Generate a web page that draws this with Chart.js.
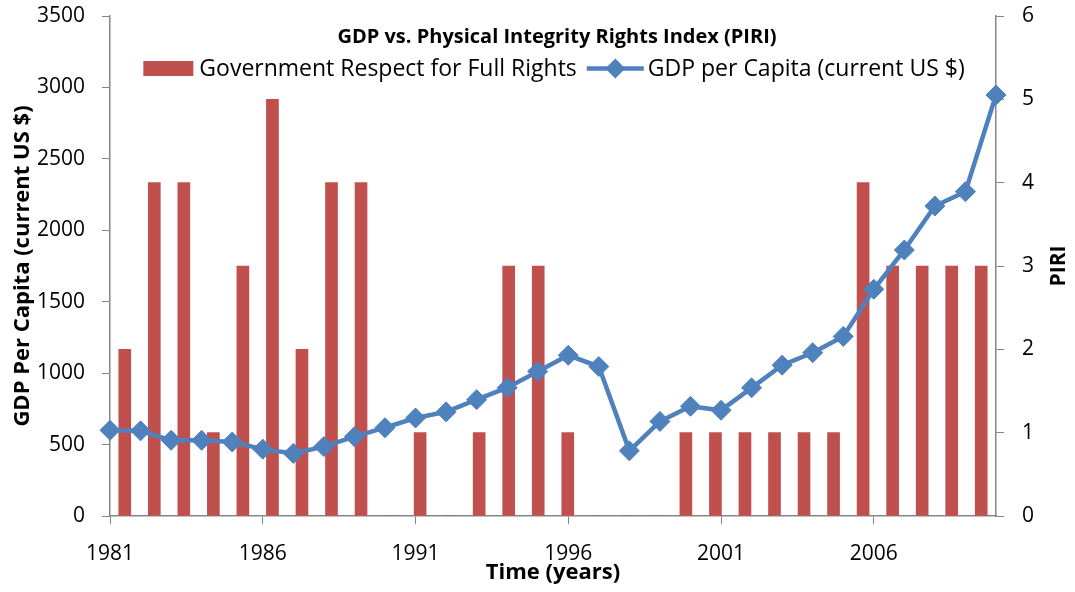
<!DOCTYPE html>
<html>
<head>
<meta charset="utf-8">
<title>GDP vs. PIRI</title>
<script src="https://cdn.jsdelivr.net/npm/chart.js@4/dist/chart.umd.min.js"></script>
<style>
  html, body { margin: 0; padding: 0; background: #ffffff; }
  #wrap { width: 1075px; height: 592px; }
</style>
</head>
<body>
<div id="wrap"><canvas id="gdp-piri-chart" width="1075" height="592"></canvas></div>
<script>
const chartTitle = "GDP vs. Physical Integrity Rights Index (PIRI)";
const years = [
  "1981", "1982", "1983", "1984", "1985", "1986", "1987", "1988", "1989", "1990",
  "1991", "1992", "1993", "1994", "1995", "1996", "1997", "1998", "1999", "2000",
  "2001", "2002", "2003", "2004", "2005", "2006", "2007", "2008", "2009", "2010",
];
// PIRI score per year (right axis)
const piriScores = [
  2, 4, 4, 1, 3, 5, 2, 4, 4, 0,
  1, 0, 1, 3, 3, 1, 0, 0, 0, 1,
  1, 1, 1, 1, 1, 4, 3, 3, 3, 3,
];
// GDP per capita, current US $ (left axis)
const gdpPerCapita = [
  600, 596, 530, 530, 518, 468, 438, 486, 555, 618,
  686, 729, 814, 898, 1012, 1125, 1046, 456, 662, 768,
  740, 897, 1056, 1143, 1257, 1587, 1862, 2170, 2270, 2947,
];
const gdpTicks = [0, 500, 1000, 1500, 2000, 2500, 3000, 3500];
const piriTicks = [0, 1, 2, 3, 4, 5, 6];

const barColor = "#C0504D";
const lineColor = "#4F81BD";
const axisColor = "#868686";
const fontFamily = "'Open Sans', Lato, sans-serif";

Chart.defaults.font.family = fontFamily;
Chart.defaults.color = "#000000";

// title, legend and the right axis name sit inside/over the plot, so draw them by hand
const headerPlugin = {
  id: "header",
  afterDraw(chart) {
    const ctx = chart.ctx;
    ctx.save();
    ctx.fillStyle = "#000000";
    ctx.textBaseline = "alphabetic";
    ctx.textAlign = "center";
    ctx.font = "bold 20px " + fontFamily;
    ctx.fillText(chartTitle, 557, 43);

    const ds = chart.data.datasets;
    const barSet = ds.find((d) => d.type === "bar");
    const lineSet = ds.find((d) => d.type === "line");
    ctx.font = "23px " + fontFamily;
    const w1 = ctx.measureText(barSet.label).width;
    const w2 = ctx.measureText(lineSet.label).width;
    const total = 50 + 6 + w1 + 10 + 57 + 4 + w2;
    let x = 554 - total / 2;
    const y = 68.5;
    ctx.textAlign = "left";

    ctx.fillStyle = barSet.backgroundColor;
    ctx.fillRect(x, 61, 50, 15);
    x += 56;
    ctx.fillStyle = "#000000";
    ctx.fillText(barSet.label, x, 76);
    x += w1 + 10;

    ctx.strokeStyle = lineSet.borderColor;
    ctx.lineWidth = lineSet.borderWidth;
    ctx.beginPath();
    ctx.moveTo(x, y);
    ctx.lineTo(x + 57, y);
    ctx.stroke();
    ctx.fillStyle = lineSet.pointBackgroundColor;
    ctx.beginPath();
    ctx.moveTo(x + 28.5, y - 10);
    ctx.lineTo(x + 38.5, y);
    ctx.lineTo(x + 28.5, y + 10);
    ctx.lineTo(x + 18.5, y);
    ctx.closePath();
    ctx.fill();
    x += 61;
    ctx.fillStyle = "#000000";
    ctx.fillText(lineSet.label, x, 76);

    // right axis name, reading bottom to top
    const area = chart.chartArea;
    ctx.translate(1059.5, (area.top + area.bottom) / 2);
    ctx.rotate(-Math.PI / 2);
    ctx.textAlign = "center";
    ctx.textBaseline = "middle";
    ctx.font = "bold 21px " + fontFamily;
    ctx.fillText("PIRI", 0, 0);
    ctx.restore();
  },
};

function fixWidth(w) {
  return function (scale) {
    scale.width = w;
    scale.paddingTop = 0;
    scale.paddingBottom = 0;
  };
}

const ctx = document.getElementById("gdp-piri-chart").getContext("2d");

new Chart(ctx, {
  data: {
    labels: years,
    datasets: [
      {
        type: "line",
        label: "GDP per Capita (current US $)",
        data: gdpPerCapita,
        xAxisID: "x",
        yAxisID: "y",
        borderColor: lineColor,
        borderWidth: 4.5,
        pointStyle: "rectRot",
        pointRadius: 10,
        pointBackgroundColor: lineColor,
        pointBorderColor: lineColor,
        pointBorderWidth: 1,
        tension: 0,
        order: 0,
      },
      {
        type: "bar",
        label: "Government Respect for Full Rights",
        data: piriScores,
        xAxisID: "x2",
        yAxisID: "y1",
        backgroundColor: barColor,
        grouped: false,
        barThickness: 12,
        order: 1,
      },
    ],
  },
  options: {
    responsive: false,
    animation: false,
    layout: { padding: { top: 16, left: 0, right: 0, bottom: 0 } },
    plugins: {
      legend: { display: false },
      title: { display: false },
      tooltip: { enabled: false },
    },
    scales: {
      x: {
        type: "category",
        offset: false,
        grid: {
          display: true,
          drawOnChartArea: false,
          drawTicks: true,
          tickLength: 8,
          color: axisColor,
        },
        border: { display: true, color: axisColor, width: 1.5 },
        ticks: {
          autoSkip: false,
          maxRotation: 0,
          padding: 17,
          font: { size: 21 },
          callback: function (value, index) {
            return index % 5 === 0 ? years[index] : null;
          },
        },
        title: {
          display: true,
          text: "Time (years)",
          font: { size: 22, weight: "bold" },
          padding: { top: 0, bottom: 6 },
        },
        afterFit: function (scale) {
          scale.height = 76;
          scale.paddingLeft = 0;
          scale.paddingRight = 0;
        },
      },
      x2: {
        type: "category",
        offset: true,
        display: false,
        grid: { display: false },
      },
      y: {
        type: "linear",
        position: "left",
        min: 0,
        max: 3500,
        grid: {
          display: true,
          drawOnChartArea: false,
          tickLength: 8,
          color: axisColor,
        },
        border: { display: true, color: axisColor, width: 1.5 },
        ticks: {
          stepSize: 500,
          padding: 17,
          font: { size: 21 },
          callback: (v) => (gdpTicks.includes(v) ? String(v) : null),
        },
        title: {
          display: true,
          text: "GDP Per Capita (current US $)",
          font: { size: 22, weight: "bold" },
          padding: { top: 10, bottom: 0 },
        },
        afterFit: fixWidth(110),
      },
      y1: {
        type: "linear",
        position: "right",
        min: 0,
        max: 6,
        grid: {
          display: true,
          drawOnChartArea: false,
          tickLength: 8,
          color: axisColor,
        },
        border: { display: true, color: axisColor, width: 1.5 },
        ticks: {
          stepSize: 1,
          padding: 18,
          font: { size: 21 },
          callback: (v) => (piriTicks.includes(v) ? String(v) : null),
        },
        title: { display: false },
        afterFit: fixWidth(79),
      },
    },
  },
  plugins: [headerPlugin],
});
</script>
</body>
</html>
